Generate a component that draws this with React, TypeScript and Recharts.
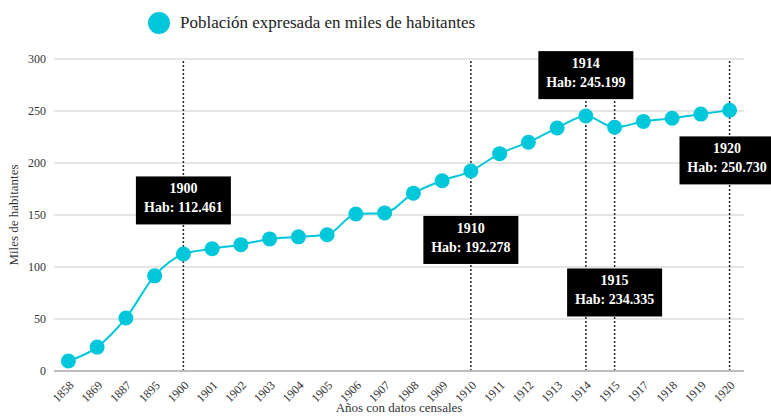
import {
  LineChart,
  Line,
  XAxis,
  YAxis,
  CartesianGrid,
  Legend,
  ReferenceLine,
  ReferenceDot,
} from 'recharts';

const years = [
  '1858', '1869', '1887', '1895', '1900', '1901', '1902', '1903', '1904', '1905', '1906', '1907',
  '1908', '1909', '1910', '1911', '1912', '1913', '1914', '1915', '1917', '1918', '1919', '1920',
];

// miles de habitantes
const population = [
  9.6, 23, 51, 91.5, 112.461, 117.5, 121.5, 127, 129, 131, 151, 152,
  171, 183, 192.278, 209, 220, 233.6, 245.199, 234.335, 240, 243, 247, 250.73,
];

const yTicks = [0, 50, 100, 150, 200, 250, 300];

// years that get a callout, and where (in axis units) the box sits
const calloutYears = ['1900', '1910', '1914', '1915', '1920'];
const calloutLevels = [164, 126, 284.5, 75.5, 202.5];

const CYAN = '#00C8DA';
const FONT = '"Liberation Serif", "Times New Roman", serif';

const data = years.map((year, i) => ({ year, value: population[i] }));

function AngledTick({ x, y, payload }: any) {
  return (
    <g transform={`translate(${x + 6},${y + 7}) rotate(-45)`}>
      <text x={0} y={0} textAnchor="end" fontSize={12} fill="#333" fontFamily={FONT}>
        {payload.value}
      </text>
    </g>
  );
}

function CalloutBox({ cx, cy, year, value }: any) {
  if (cx == null || cy == null) return null;
  const x = Math.min(cx, 727);
  return (
    <g>
      <rect x={x - 47.5} y={cy - 24} width={95} height={48} fill="#000" />
      <text
        x={x}
        y={cy - 7}
        textAnchor="middle"
        fill="#fff"
        fontSize={14}
        fontWeight="bold"
        fontFamily={FONT}
      >
        {year}
      </text>
      <text
        x={x}
        y={cy + 12}
        textAnchor="middle"
        fill="#fff"
        fontSize={14}
        fontWeight="bold"
        fontFamily={FONT}
      >
        {`Hab: ${value.toFixed(3)}`}
      </text>
    </g>
  );
}

function renderLegend() {
  return (
    <div style={{ display: 'flex', alignItems: 'center', fontFamily: FONT }}>
      <span
        style={{
          display: 'inline-block',
          width: 22,
          height: 22,
          borderRadius: '50%',
          background: CYAN,
          marginRight: 10,
        }}
      />
      <span style={{ fontSize: 17, color: '#222' }}>Población expresada en miles de habitantes</span>
    </div>
  );
}

export default function App() {
  return (
    <div style={{ position: 'absolute', left: 0, top: 0, background: '#fff' }}>
      <LineChart
        width={771}
        height={416}
        data={data}
        margin={{ top: 59, right: 27, bottom: 0, left: 8 }}
      >
        <CartesianGrid vertical={false} stroke="#dcdcdc" strokeWidth={1.5} />
        <XAxis
          dataKey="year"
          interval={0}
          height={45}
          padding={{ left: 14.4, right: 14.4 }}
          tickLine={false}
          stroke="#bdbdbd"
          strokeWidth={2}
          tick={<AngledTick />}
          label={({ viewBox }: any) => (
            <text
              x={viewBox.x + viewBox.width / 2}
              y={412}
              textAnchor="middle"
              fontSize={13}
              fill="#333"
              fontFamily={FONT}
            >
              Años con datos censales
            </text>
          )}
        />
        <YAxis
          width={46}
          domain={[0, 300]}
          ticks={yTicks}
          axisLine={false}
          tickLine={false}
          tick={{ fontSize: 12, fill: '#333', fontFamily: FONT }}
          label={({ viewBox }: any) => {
            const cy = viewBox.y + viewBox.height / 2;
            return (
              <text
                x={18}
                y={cy}
                transform={`rotate(-90, 18, ${cy})`}
                textAnchor="middle"
                fontSize={13}
                fill="#333"
                fontFamily={FONT}
              >
                Miles de habitantes
              </text>
            );
          }}
        />
        <Legend
          layout="horizontal"
          verticalAlign="middle"
          align="center"
          wrapperStyle={{ top: 12, left: 148, width: 'auto' }}
          content={renderLegend}
        />
        {calloutYears.map((year) => (
          <ReferenceLine
            key={`line-${year}`}
            x={year}
            stroke="#222"
            strokeWidth={1.5}
            strokeDasharray="2 2"
          />
        ))}
        <Line
          type="monotone"
          dataKey="value"
          stroke={CYAN}
          strokeWidth={2}
          dot={{ r: 7.5, fill: CYAN, stroke: 'none' }}
          activeDot={false}
          isAnimationActive={false}
        />
        {calloutYears.map((year, i) => (
          <ReferenceDot
            key={`box-${year}`}
            x={year}
            y={calloutLevels[i]}
            r={0}
            shape={(props: any) => (
              <CalloutBox
                cx={props.cx}
                cy={props.cy}
                year={year}
                value={population[years.indexOf(year)]}
              />
            )}
          />
        ))}
      </LineChart>
    </div>
  );
}
